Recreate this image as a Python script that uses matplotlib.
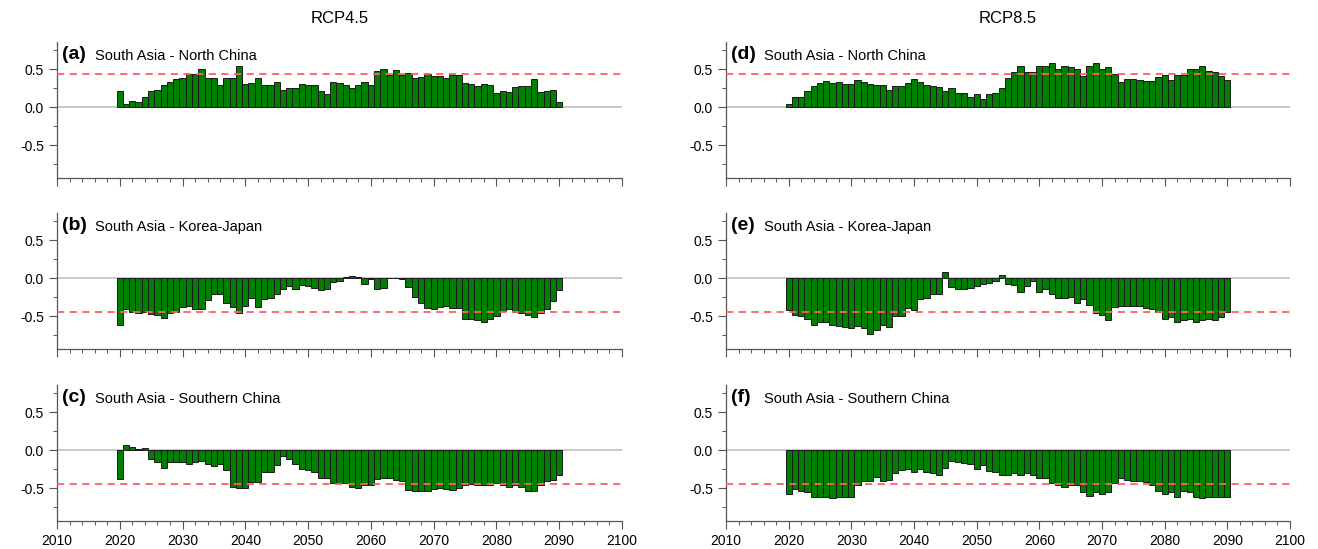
import numpy as np
import matplotlib
matplotlib.use("Agg")
import matplotlib.pyplot as plt
from matplotlib.ticker import MultipleLocator

plt.rcParams['font.family'] = ['Liberation Sans', 'DejaVu Sans']

years = np.arange(2020, 2091)
threshold = 0.44

# correlation per year, RCP4.5
sa_nc_45 = [0.22, 0.05, 0.08, 0.065, 0.13, 0.22, 0.23, 0.29, 0.34, 0.37, 0.38, 0.44, 0.44, 0.51,
            0.38, 0.38, 0.30, 0.38, 0.39, 0.55, 0.31, 0.32, 0.39, 0.29, 0.29, 0.34, 0.23, 0.25,
            0.25, 0.31, 0.30, 0.30, 0.21, 0.17, 0.33, 0.32,
            0.30, 0.25, 0.29, 0.33, 0.29, 0.48, 0.50, 0.43, 0.49, 0.42, 0.45, 0.39, 0.40, 0.44,
            0.41, 0.41, 0.39, 0.43, 0.43, 0.32, 0.31, 0.28, 0.31, 0.29, 0.19, 0.22, 0.20, 0.27,
            0.28, 0.28, 0.37, 0.20, 0.22, 0.23, 0.07]
sa_kj_45 = [-0.62, -0.41, -0.44, -0.46, -0.44, -0.47, -0.48, -0.52, -0.46, -0.44, -0.38, -0.36,
            -0.40, -0.40, -0.29, -0.21, -0.21, -0.32, -0.38, -0.46, -0.36, -0.26, -0.38, -0.27,
            -0.26, -0.21, -0.14, -0.10, -0.14, -0.09, -0.10, -0.13, -0.16, -0.14, -0.05, -0.03,
            0.02, 0.03, 0.02, -0.07, -0.01, -0.14, -0.13, 0.01, 0.0, -0.01, -0.12, -0.25, -0.32,
            -0.39, -0.40, -0.38, -0.37, -0.39, -0.39, -0.53, -0.53, -0.55, -0.57, -0.54, -0.49,
            -0.43, -0.40, -0.44, -0.45, -0.48, -0.51, -0.45, -0.40, -0.30, -0.16]
sa_sc_45 = [-0.38, 0.07, 0.04, 0.02, 0.03, -0.11, -0.16, -0.23, -0.16, -0.16, -0.16, -0.18, -0.16,
            -0.14, -0.18, -0.21, -0.18, -0.26, -0.48, -0.49, -0.49, -0.42, -0.42, -0.28, -0.28,
            -0.19, -0.07, -0.11, -0.18, -0.25, -0.26, -0.28, -0.37, -0.37, -0.43, -0.43,
            -0.43, -0.48, -0.49, -0.46, -0.46, -0.38, -0.36, -0.36, -0.39, -0.41, -0.52, -0.54,
            -0.54, -0.54, -0.51, -0.50, -0.51, -0.52, -0.50, -0.45, -0.44, -0.46, -0.46, -0.45,
            -0.43, -0.46, -0.48, -0.46, -0.48, -0.54, -0.54, -0.46, -0.40, -0.39, -0.32]

# correlation per year, RCP8.5
sa_nc_85 = [0.05, 0.14, 0.14, 0.21, 0.28, 0.32, 0.35, 0.32, 0.33, 0.31, 0.31, 0.36, 0.34, 0.31,
            0.29, 0.30, 0.23, 0.28, 0.28, 0.32, 0.37, 0.34, 0.30, 0.28, 0.27, 0.22, 0.25, 0.19,
            0.19, 0.13, 0.18, 0.11, 0.17, 0.19, 0.25, 0.38,
            0.47, 0.54, 0.47, 0.47, 0.54, 0.55, 0.58, 0.51, 0.54, 0.53, 0.50, 0.41, 0.54, 0.58,
            0.51, 0.53, 0.44, 0.33, 0.37, 0.37, 0.36, 0.35, 0.35, 0.40, 0.43, 0.36, 0.42, 0.43,
            0.50, 0.51, 0.55, 0.48, 0.46, 0.41, 0.36]
sa_kj_85 = [-0.42, -0.48, -0.49, -0.53, -0.61, -0.58, -0.58, -0.62, -0.63, -0.64, -0.66, -0.63,
            -0.65, -0.73, -0.68, -0.61, -0.64, -0.49, -0.49, -0.39, -0.42, -0.27, -0.26, -0.21,
            -0.21, 0.08, -0.11, -0.14, -0.14, -0.13, -0.10, -0.08, -0.06, -0.03, 0.05, -0.07,
            -0.09, -0.18, -0.10, -0.03, -0.18, -0.14, -0.21, -0.26, -0.26, -0.25, -0.33, -0.27,
            -0.35, -0.45, -0.48, -0.55, -0.38, -0.36, -0.36, -0.36, -0.36, -0.39, -0.41, -0.44,
            -0.53, -0.51, -0.57, -0.55, -0.53, -0.57, -0.55, -0.54, -0.55, -0.51, -0.44]
sa_sc_85 = [-0.57, -0.51, -0.54, -0.55, -0.62, -0.62, -0.61, -0.63, -0.62, -0.62, -0.61, -0.45,
            -0.41, -0.40, -0.35, -0.41, -0.39, -0.30, -0.26, -0.25, -0.28, -0.24, -0.29, -0.30,
            -0.32, -0.23, -0.14, -0.16, -0.17, -0.18, -0.25, -0.19, -0.27, -0.29, -0.32, -0.32,
            -0.30, -0.32, -0.30, -0.32, -0.37, -0.37, -0.43, -0.46, -0.48, -0.45, -0.45, -0.55,
            -0.60, -0.55, -0.57, -0.55, -0.43, -0.36, -0.39, -0.41, -0.41, -0.42, -0.45, -0.54,
            -0.57, -0.55, -0.62, -0.54, -0.55, -0.62, -0.63, -0.62, -0.61, -0.62, -0.61]

panels = [
    ("(a)", "South Asia - North China", sa_nc_45, threshold),
    ("(b)", "South Asia - Korea-Japan", sa_kj_45, -threshold),
    ("(c)", "South Asia - Southern China", sa_sc_45, -threshold),
    ("(d)", "South Asia - North China", sa_nc_85, threshold),
    ("(e)", "South Asia - Korea-Japan", sa_kj_85, -threshold),
    ("(f)", "South Asia - Southern China", sa_sc_85, -threshold),
]
col_titles = ["RCP4.5", "RCP8.5"]

W, H = 1318, 549
fig = plt.figure(figsize=(W / 100, H / 100), dpi=100)

col_x = [(57, 622), (726, 1290)]
row_y = [(42, 178), (213, 349), (385, 521)]

for i, (tag, name, vals, thr) in enumerate(panels):
    col, row = i // 3, i % 3
    x0, x1 = col_x[col]
    y0, y1 = row_y[row]
    ax = fig.add_axes([x0 / W, 1 - y1 / H, (x1 - x0) / W, (y1 - y0) / H])

    ax.axhline(0, color="#c0c0c0", lw=1.2, zorder=1)
    ax.bar(years, vals, width=1.0, color="#008000", edgecolor="#1a1a1a", linewidth=0.7, zorder=2)
    ax.axhline(thr, color="#ff6060", lw=1.3, ls=(0, (4, 3)), zorder=3)

    ax.set_xlim(2010, 2100)
    ax.set_ylim(-0.93, 0.86)
    ax.set_yticks([-0.5, 0.0, 0.5])
    ax.set_yticklabels(["-0.5", "0.0", "0.5"])
    ax.yaxis.set_minor_locator(MultipleLocator(0.25))
    ax.xaxis.set_major_locator(MultipleLocator(10))
    ax.xaxis.set_minor_locator(MultipleLocator(2))
    for s in ["top", "right"]:
        ax.spines[s].set_visible(False)
    for s in ["left", "bottom"]:
        ax.spines[s].set_color("#555555")
        ax.spines[s].set_linewidth(0.9)
    ax.tick_params(which="major", direction="out", length=6, width=0.8, color="#555555",
                   labelsize=10)
    ax.tick_params(which="minor", direction="out", length=3, width=0.7, color="#555555")
    if row < 2:
        ax.tick_params(axis="x", labelbottom=False)

    ax.text(0.008, 0.97, tag, transform=ax.transAxes, fontsize=14, fontweight="bold",
            va="top", ha="left")
    ax.text(0.068, 0.945, name, transform=ax.transAxes, fontsize=10.5, va="top", ha="left")

    if row == 0:
        ax.set_title(col_titles[col], fontsize=12, pad=14)

fig.savefig("out.png", dpi=100)
